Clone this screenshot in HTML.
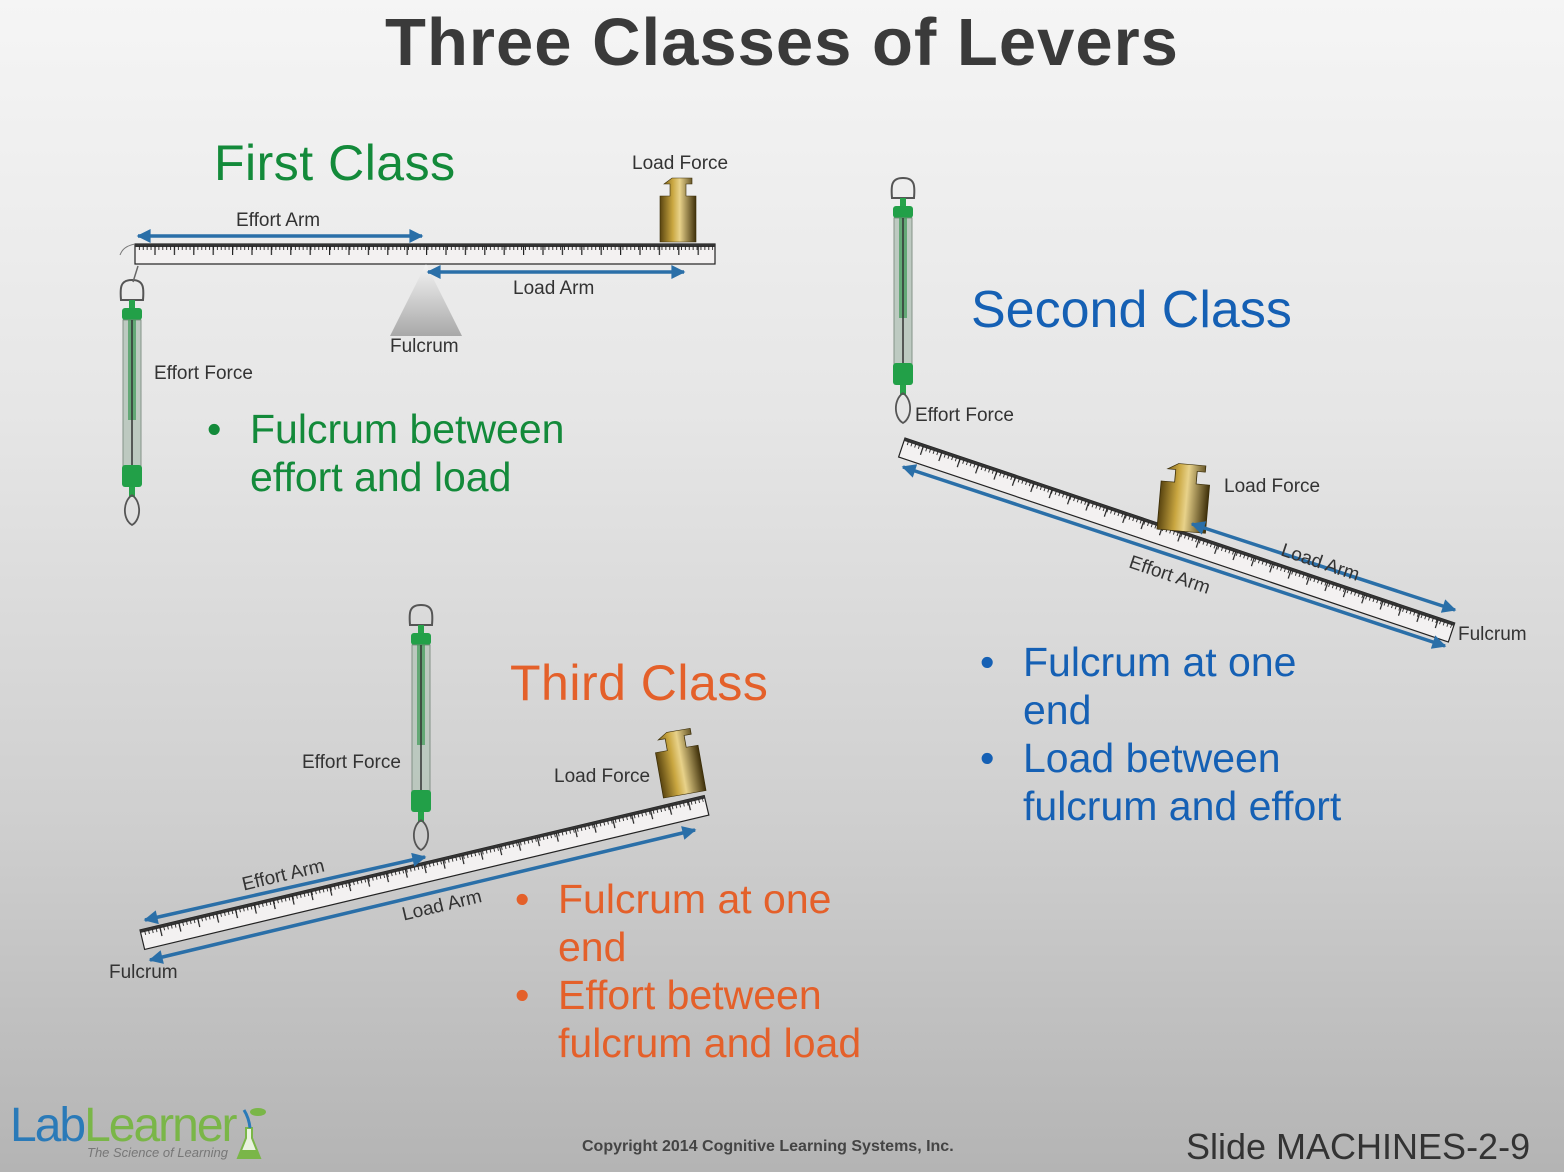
<!DOCTYPE html>
<html><head><style>
html,body{margin:0;padding:0}
body{width:1564px;height:1172px;overflow:hidden;background:linear-gradient(#f5f5f5 0%,#e6e6e6 35%,#cfcfcf 70%,#b4b4b4 100%);font-family:"Liberation Sans",sans-serif;position:relative}
.t{position:absolute;white-space:nowrap}
.lbl{font-size:19px;color:#333}
.b{display:inline-block;width:43px}
</style></head><body>
<svg width="1564" height="1172" style="position:absolute;left:0;top:0">
<defs>
<pattern id="tk" width="3.9" height="20" patternUnits="userSpaceOnUse"><rect x="0" y="0" width="0.9" height="6" fill="#222"/></pattern>
<pattern id="tk2" width="19.4" height="20" patternUnits="userSpaceOnUse"><rect x="0" y="0" width="1.2" height="11" fill="#222"/></pattern>
<marker id="ah" viewBox="0 0 10 10" refX="9" refY="5" markerWidth="5" markerHeight="4" orient="auto-start-reverse"><path d="M0,0 L10,5 L0,10 z" fill="#2a6fa8"/></marker>
<linearGradient id="gold" x1="0" x2="1"><stop offset="0" stop-color="#5a4510"/><stop offset="0.35" stop-color="#c9a640"/><stop offset="0.55" stop-color="#e8d28a"/><stop offset="1" stop-color="#3f300a"/></linearGradient>
<linearGradient id="ful" x1="0" y1="0" x2="0" y2="1"><stop offset="0" stop-color="#f4f4f4"/><stop offset="1" stop-color="#a8a8a8"/></linearGradient>
<g id="ruler">
<rect x="0" y="0" width="580" height="20" fill="#f3f1f1" stroke="#222" stroke-width="1.2"/>
<rect x="0" y="0" width="580" height="3" fill="#333"/>
<rect x="2" y="2" width="576" height="7" fill="url(#tk)"/>
<rect x="2" y="2" width="576" height="12" fill="url(#tk2)"/>
</g>
<g id="scale">
<path d="M15,0 C3,0 3,8 4,20 L26,20 C27,8 27,0 15,0" fill="none" stroke="#555" stroke-width="2"/>
<rect x="12" y="20" width="6" height="10" fill="#27a34a"/>
<rect x="5" y="28" width="20" height="12" rx="3" fill="#22a048"/>
<rect x="6" y="40" width="18" height="150" fill="#b9c7bd" stroke="#7a8a7e" opacity="0.9"/>
<rect x="11" y="40" width="8" height="100" fill="#3d9a55" opacity="0.7"/>
<line x1="15" y1="40" x2="15" y2="190" stroke="#333" stroke-width="1.5"/>
<rect x="5" y="185" width="20" height="22" rx="3" fill="#22a048"/>
<rect x="12" y="207" width="6" height="10" fill="#27a34a"/>
<path d="M15,215 C5,222 6,240 15,245 C24,240 25,222 15,215" fill="none" stroke="#555" stroke-width="1.8"/>
</g>
<g id="weight">
<path d="M12,2 h20 v6 h-6 v12 h10 v46 h-36 v-46 h10 v-12 h-6 z" fill="url(#gold)" stroke="#3a2d08" stroke-width="0.6"/>
</g>
</defs>

<use href="#ruler" x="135" y="244"/>
<path d="M135,244 C125,246 122,250 120,255" fill="none" stroke="#777" stroke-width="1"/>
<use href="#weight" x="660" y="176"/>
<path d="M426,264 L462,336 L390,336 Z" fill="url(#ful)"/>
<line x1="138" y1="236" x2="422" y2="236" stroke="#2a6fa8" stroke-width="3.5" marker-start="url(#ah)" marker-end="url(#ah)"/>
<line x1="428" y1="272" x2="684" y2="272" stroke="#2a6fa8" stroke-width="3.5" marker-start="url(#ah)" marker-end="url(#ah)"/>
<use href="#scale" x="117" y="280"/>
<path d="M133,282 L138,266" stroke="#666" stroke-width="1.5"/>

<use href="#scale" x="888" y="178"/>
<g transform="translate(905,438) rotate(18.6)">
<use href="#ruler" x="0" y="0"/>
</g>
<g transform="translate(1163,460) rotate(5)"><use href="#weight" x="0" y="0" transform="scale(1.35,1.05)"/></g>
<line x1="903" y1="467" x2="1445" y2="646" stroke="#2a6fa8" stroke-width="3.5" marker-start="url(#ah)" marker-end="url(#ah)"/>
<line x1="1192" y1="524" x2="1455" y2="610" stroke="#2a6fa8" stroke-width="3.5" marker-start="url(#ah)" marker-end="url(#ah)"/>

<use href="#scale" x="406" y="605"/>
<g transform="translate(140,930) rotate(-13.4)">
<use href="#ruler" x="0" y="0"/>
</g>
<g transform="translate(652,733) rotate(-10)"><use href="#weight" x="0" y="0" transform="scale(1.2,1.0)"/></g>
<line x1="145" y1="920" x2="425" y2="857" stroke="#2a6fa8" stroke-width="3.5" marker-start="url(#ah)" marker-end="url(#ah)"/>
<line x1="150" y1="960" x2="695" y2="830" stroke="#2a6fa8" stroke-width="3.5" marker-start="url(#ah)" marker-end="url(#ah)"/>

<path d="M246,1128 v10 l-8,20 h22 l-8,-20 v-10 z" fill="#eaf3e0" stroke="#7ab648" stroke-width="2"/>
<path d="M241,1150 h16 l3,8 h-22 z" fill="#7ab648"/>
<path d="M244,1110 q5,8 6,18" stroke="#2a7ab8" stroke-width="3" fill="none"/>
<ellipse cx="258" cy="1112" rx="8" ry="4" fill="#7ab648"/>
</svg>

<div class="t" style="left:0;width:1564px;text-align:center;top:4px;font-size:67px;font-weight:bold;color:#3a3a3a;letter-spacing:1px">Three Classes of Levers</div>

<div class="t" style="left:214px;top:134px;font-size:50px;color:#138a3a;letter-spacing:0.5px">First Class</div>
<div class="t lbl" style="left:632px;top:153px">Load Force</div>
<div class="t lbl" style="left:236px;top:210px">Effort Arm</div>
<div class="t lbl" style="left:513px;top:278px">Load Arm</div>
<div class="t lbl" style="left:390px;top:336px">Fulcrum</div>
<div class="t lbl" style="left:154px;top:363px">Effort Force</div>
<div class="t" style="left:207px;top:405px;font-size:41px;color:#138a3a;line-height:48px"><span class="b">•</span>Fulcrum between<br><span class="b"></span>effort and load</div>

<div class="t" style="left:971px;top:280px;font-size:52px;color:#1560b4">Second Class</div>
<div class="t lbl" style="left:915px;top:405px">Effort Force</div>
<div class="t lbl" style="left:1224px;top:476px">Load Force</div>
<div class="t lbl" style="left:1285px;top:540px;transform:rotate(18.6deg);transform-origin:0 0">Load Arm</div>
<div class="t lbl" style="left:1133px;top:552px;transform:rotate(18.6deg);transform-origin:0 0">Effort Arm</div>
<div class="t lbl" style="left:1458px;top:624px">Fulcrum</div>
<div class="t" style="left:980px;top:638px;font-size:41px;color:#1560b4;line-height:48px"><span class="b">•</span>Fulcrum at one<br><span class="b"></span>end<br><span class="b">•</span>Load between<br><span class="b"></span>fulcrum and effort</div>

<div class="t" style="left:510px;top:654px;font-size:50px;color:#e4602a;letter-spacing:0.5px">Third Class</div>
<div class="t lbl" style="left:302px;top:752px">Effort Force</div>
<div class="t lbl" style="left:554px;top:766px">Load Force</div>
<div class="t lbl" style="left:240px;top:875px;transform:rotate(-13.4deg);transform-origin:0 0">Effort Arm</div>
<div class="t lbl" style="left:400px;top:905px;transform:rotate(-13.4deg);transform-origin:0 0">Load Arm</div>
<div class="t lbl" style="left:109px;top:962px">Fulcrum</div>
<div class="t" style="left:515px;top:875px;font-size:41px;color:#e4602a;line-height:48px"><span class="b">•</span>Fulcrum at one<br><span class="b"></span>end<br><span class="b">•</span>Effort between<br><span class="b"></span>fulcrum and load</div>

<div class="t" style="left:10px;top:1098px;font-size:48px;letter-spacing:-2px"><span style="color:#2a7ab8">Lab</span><span style="color:#7ab648">Learner</span></div>
<div class="t" style="left:87px;top:1145px;font-size:13px;font-style:italic;color:#777">The Science of Learning</div>
<div class="t" style="left:582px;top:1138px;font-size:16px;font-weight:bold;color:#444">Copyright 2014 Cognitive Learning Systems, Inc.</div>
<div class="t" style="left:1186px;top:1126px;font-size:36px;color:#333">Slide MACHINES-2-9</div>
</body></html>
